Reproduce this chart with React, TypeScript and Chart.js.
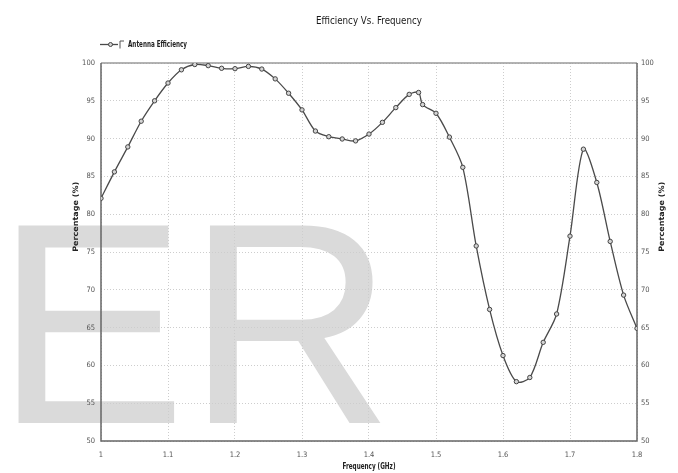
import React, { useEffect, useRef } from 'react';
import { Chart, registerables } from 'chart.js';

Chart.register(...registerables);

// ---- data ----
const frequencies = [
  1.0, 1.02, 1.04, 1.06, 1.08, 1.1, 1.12, 1.14, 1.16, 1.18, 1.2, 1.22, 1.24, 1.26, 1.28,
  1.3, 1.32, 1.34, 1.36, 1.38, 1.4, 1.42, 1.44, 1.46, 1.474, 1.48, 1.5, 1.52, 1.54, 1.56,
  1.58, 1.6, 1.62, 1.64, 1.66, 1.68, 1.7, 1.72, 1.74, 1.76, 1.78, 1.8,
];
const efficiency = [
  82.1, 85.6, 88.9, 92.3, 95.0, 97.35, 99.1, 99.8, 99.65, 99.3, 99.25, 99.55, 99.2, 97.9, 96.0,
  93.8, 91.0, 90.25, 89.95, 89.7, 90.6, 92.15, 94.1, 95.85, 96.1, 94.5, 93.35, 90.2, 86.2, 75.8,
  67.4, 61.3, 57.85, 58.4, 63.05, 66.8, 77.1, 88.6, 84.2, 76.4, 69.3, 64.9,
];
const xRange = [1, 1.8];
const xStep = 0.1;
const yRange = [50, 100];
const yStep = 5;

const chartTitle = 'Efficiency Vs. Frequency';
const seriesLabel = 'Antenna Efficiency';
const xAxisTitle = 'Frequency (GHz)';
const yAxisTitle = 'Percentage (%)';
const watermarkText = 'ER';

const NARROW = "'DejaVu Sans Condensed', 'Liberation Sans', sans-serif";
const LINE_COLOR = '#4a4a4a';
const GRID_COLOR = '#cdcdcd';
const TICK_COLOR = '#555';

// draw text squeezed/stretched along its baseline to a target width
function fitText(ctx: any, text: string, x: number, y: number, font: string, targetW: number, rot = 0) {
  ctx.save();
  ctx.translate(x, y);
  if (rot) ctx.rotate(rot);
  ctx.font = font;
  const w = ctx.measureText(text).width;
  ctx.scale(targetW / w, 1);
  ctx.fillText(text, 0, 0);
  ctx.restore();
}

const decorPlugin = {
  id: 'decor',
  beforeDraw(chart: any) {
    const ctx = chart.ctx;
    ctx.save();
    ctx.fillStyle = '#ffffff';
    ctx.fillRect(0, 0, chart.width, chart.height);
    ctx.fillStyle = '#dadada';
    ctx.font = "287px 'Liberation Sans', Arial, sans-serif";
    ctx.textAlign = 'left';
    ctx.textBaseline = 'alphabetic';
    ctx.fillText(watermarkText, -5, 423);
    ctx.restore();
  },
  beforeDatasetsDraw(chart: any) {
    const { ctx, chartArea } = chart;
    const { left, right, top, bottom } = chartArea;
    ctx.save();
    ctx.lineWidth = 1.5;
    ctx.strokeStyle = '#9a9a9a';
    ctx.beginPath();
    ctx.moveTo(left, top);
    ctx.lineTo(right, top);
    ctx.stroke();
    ctx.strokeStyle = '#666';
    ctx.beginPath();
    ctx.moveTo(left, top);
    ctx.lineTo(left, bottom);
    ctx.lineTo(right, bottom);
    ctx.lineTo(right, top);
    ctx.stroke();
    ctx.restore();
  },
  afterDraw(chart: any) {
    const { ctx, chartArea } = chart;
    const { left, right, top, bottom } = chartArea;
    const cx = (left + right) / 2;
    ctx.save();
    ctx.textAlign = 'center';
    ctx.textBaseline = 'middle';

    // title
    ctx.fillStyle = '#1a1a1a';
    fitText(ctx, chartTitle, cx, 21, `11px ${NARROW}`, 106);

    // legend
    const ly = 44.5;
    ctx.strokeStyle = LINE_COLOR;
    ctx.lineWidth = 1.3;
    ctx.beginPath();
    ctx.moveTo(left - 1, ly);
    ctx.lineTo(left + 17, ly);
    ctx.stroke();
    ctx.beginPath();
    ctx.arc(left + 9.5, ly, 2, 0, Math.PI * 2);
    ctx.fillStyle = '#d4d4d4';
    ctx.fill();
    ctx.lineWidth = 1;
    ctx.strokeStyle = '#444';
    ctx.stroke();
    ctx.strokeStyle = '#555';
    ctx.beginPath();
    ctx.moveTo(left + 19, ly + 4);
    ctx.lineTo(left + 19, ly - 3.5);
    ctx.lineTo(left + 23, ly - 3.5);
    ctx.stroke();
    ctx.fillStyle = '#222';
    ctx.textAlign = 'left';
    fitText(ctx, seriesLabel, left + 27, ly, `bold 8px ${NARROW}`, 59);
    ctx.textAlign = 'center';

    // axis titles
    fitText(ctx, xAxisTitle, cx, 467, `bold 8px ${NARROW}`, 53);
    const vy = top + (bottom - top) * 0.407;
    fitText(ctx, yAxisTitle, left - 25, vy, `bold 7.5px ${NARROW}`, 70, -Math.PI / 2);
    fitText(ctx, yAxisTitle, right + 25, vy, `bold 7.5px ${NARROW}`, 70, -Math.PI / 2);
    ctx.restore();
  },
};

export default function App() {
  const ref = useRef<HTMLCanvasElement>(null);

  useEffect(() => {
    document.body.style.margin = '0';
    const canvas = ref.current;
    if (!canvas) return;
    const tickFont = { family: NARROW, size: 7.5 };
    const chart = new Chart(canvas, {
      type: 'line',
      data: {
        datasets: [
          {
            label: seriesLabel,
            data: frequencies.map((x, i) => ({ x, y: efficiency[i] })),
            borderColor: LINE_COLOR,
            borderWidth: 1.3,
            tension: 0.3,
            pointRadius: 2.2,
            pointBackgroundColor: '#d4d4d4',
            pointBorderColor: '#444',
            pointBorderWidth: 1,
            fill: false,
          },
        ],
      },
      options: {
        responsive: false,
        animation: false,
        devicePixelRatio: 1,
        layout: { padding: { top: 63, left: 0, right: 0, bottom: 0 } },
        plugins: {
          legend: { display: false },
          title: { display: false },
          tooltip: { enabled: false },
        },
        scales: {
          x: {
            type: 'linear',
            position: 'bottom',
            min: xRange[0],
            max: xRange[1],
            ticks: {
              stepSize: xStep,
              padding: 9.5,
              color: TICK_COLOR,
              font: tickFont,
              maxRotation: 0,
              autoSkip: false,
              callback: (v: any) => String(+Number(v).toFixed(1)),
            },
            grid: { color: GRID_COLOR, lineWidth: 1, drawTicks: false },
            border: { display: false, dash: [1, 2] },
            afterFit: (s: any) => {
              s.height = 32;
            },
          },
          y: {
            type: 'linear',
            position: 'left',
            min: yRange[0],
            max: yRange[1],
            ticks: { stepSize: yStep, padding: 6, color: TICK_COLOR, font: tickFont },
            grid: { color: GRID_COLOR, lineWidth: 1, drawTicks: false },
            border: { display: false, dash: [1, 2] },
            afterFit: (s: any) => {
              s.width = 101;
            },
          },
          y2: {
            type: 'linear',
            position: 'right',
            min: yRange[0],
            max: yRange[1],
            ticks: { stepSize: yStep, padding: 4, color: TICK_COLOR, font: tickFont },
            grid: { display: false, drawTicks: false },
            border: { display: false },
            afterFit: (s: any) => {
              s.width = 41;
            },
          },
        },
      } as any,
      plugins: [decorPlugin],
    });
    return () => chart.destroy();
  }, []);

  return <canvas ref={ref} width={678} height={473} style={{ display: 'block' }} />;
}
